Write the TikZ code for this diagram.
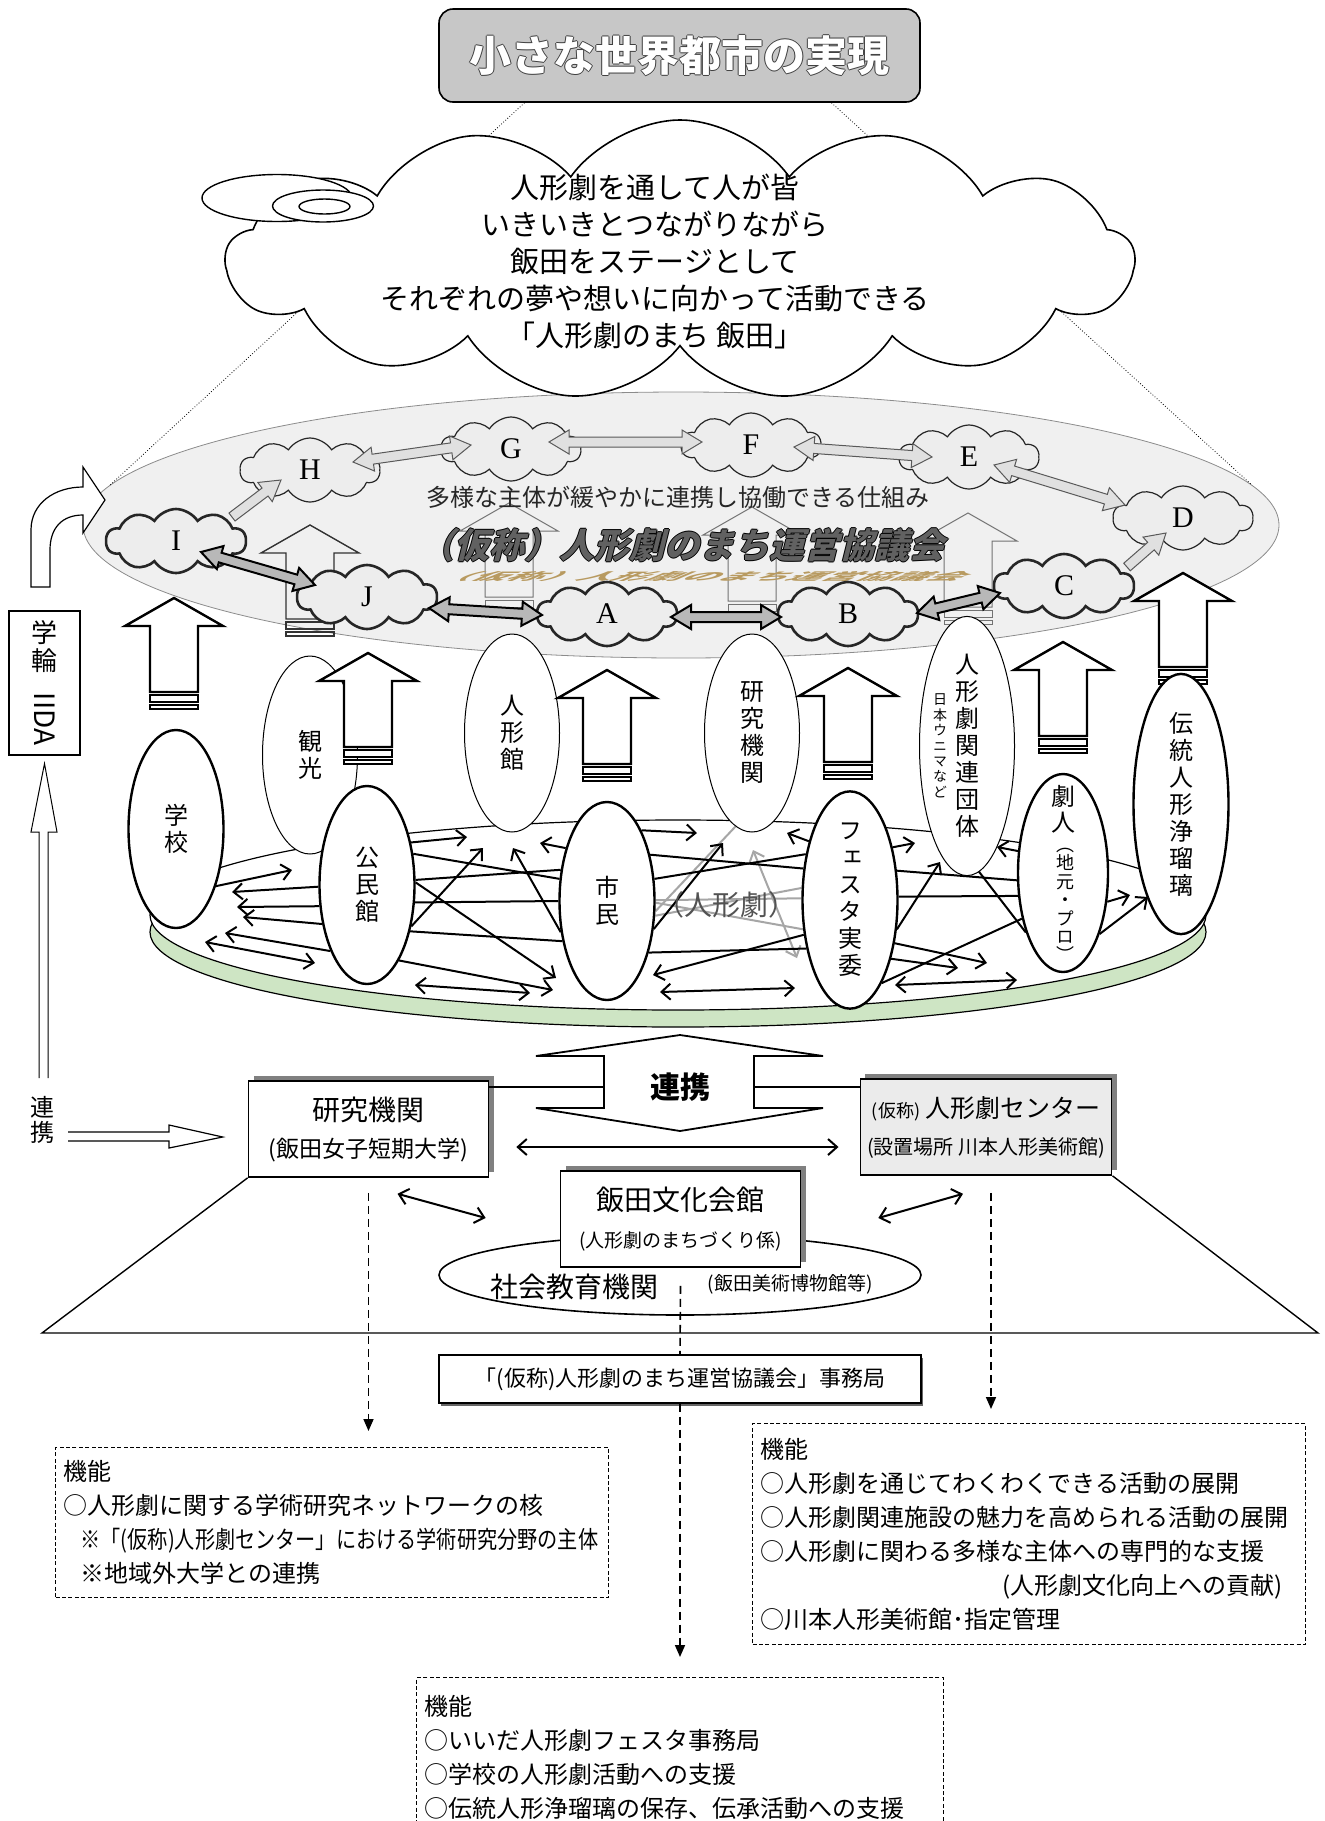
\documentclass[tikz,border=0pt]{standalone}
\usepackage{fontspec}
\usepackage{graphicx}
\setmainfont{Noto Sans CJK JP}
\newfontfamily\vjp{Noto Sans CJK JP}[RawFeature=+vert]
\newfontfamily\kyogiA{Noto Sans CJK JP}[FakeSlant=0.25]
\newfontfamily\kyogiB{Noto Sans CJK JP}[FakeSlant=0.7]
\newfontfamily\lat{Liberation Serif}
\usetikzlibrary{shapes.geometric,shapes.symbols,arrows.meta,calc,positioning,shadows}
\definecolor{platgreen}{RGB}{206,229,196}
\definecolor{gold}{RGB}{184,154,96}
\pgfdeclarelayer{plat}
\pgfdeclarelayer{net}
\pgfsetlayers{plat,net,main}

% text with a thin outline
\newcommand\halo[2]{\leavevmode\rlap{\color{#1}\hspace*{-0.6pt}#2}\rlap{\color{#1}\hspace*{0.6pt}#2}\rlap{\color{#1}\raisebox{0.6pt}{#2}}\rlap{\color{#1}\raisebox{-0.6pt}{#2}}#2}

% block arrow between two clouds, heads at both ends
\newcommand\twolink[5]{%
  \path[#1] let \p1=($(#2)+(#3)$), \p2=($(#4)+(#5)$), \p3=($(\p2)-(\p1)$), \n1={atan2(\y3,\x3)} in
    (\p1) -- ($(\p1)+(\n1:10pt)+(\n1+90:6pt)$) -- ($(\p1)+(\n1:10pt)+(\n1+90:2.5pt)$)
    -- ($(\p2)+(\n1+180:10pt)+(\n1+90:2.5pt)$) -- ($(\p2)+(\n1+180:10pt)+(\n1+90:6pt)$)
    -- (\p2) -- ($(\p2)+(\n1+180:10pt)+(\n1-90:6pt)$) -- ($(\p2)+(\n1+180:10pt)+(\n1-90:2.5pt)$)
    -- ($(\p1)+(\n1:10pt)+(\n1-90:2.5pt)$) -- ($(\p1)+(\n1:10pt)+(\n1-90:6pt)$) -- cycle;}
% block arrow with one head
\newcommand\onelink[5]{%
  \path[#1] let \p1=($(#2)+(#3)$), \p2=($(#4)+(#5)$), \p3=($(\p2)-(\p1)$), \n1={atan2(\y3,\x3)} in
    ($(\p1)+(\n1+90:2.5pt)$) -- ($(\p2)+(\n1+180:10pt)+(\n1+90:2.5pt)$) -- ($(\p2)+(\n1+180:10pt)+(\n1+90:6pt)$)
    -- (\p2) -- ($(\p2)+(\n1+180:10pt)+(\n1-90:6pt)$) -- ($(\p2)+(\n1+180:10pt)+(\n1-90:2.5pt)$)
    -- ($(\p1)+(\n1-90:2.5pt)$) -- cycle;}

\begin{document}
\begin{tikzpicture}[x=0.5pt,y=-0.5pt,
  smallcloud/.style={cloud, cloud puffs=10, cloud puff arc=115, cloud ignores aspect,
    minimum width=70pt, minimum height=32pt, inner sep=0pt, fill=black!7, draw=black!85,
    line width=0.6pt, font=\lat\fontsize{15}{15}\selectfont},
  boldcloud/.style={smallcloud, line width=1.3pt},
  lightlink/.style={fill=black!12, draw=black!65, line width=0.5pt},
  darklink/.style={fill=black!28, draw=black, line width=1pt},
  thinell/.style={ellipse, draw, line width=0.5pt, fill=white, inner sep=0pt,
    minimum width=47.5pt, minimum height=99pt, align=center, font=\vjp\fontsize{12}{13.5}\selectfont},
  thickell/.style={thinell, line width=1.2pt},
  upthick/.style={draw, fill=white, line width=1.2pt},
  upfaint/.style={draw=black!55, line width=0.5pt},
  net/.style={line width=1pt, >={Straight Barb[length=4.5pt,width=8pt]}},
  grayline/.style={net, draw=black!35},
  dasharr/.style={line width=0.8pt, dash pattern=on 4pt off 2.5pt, -{Triangle[length=6pt,width=5pt]}},
  box/.style={draw, line width=0.8pt, fill=white, minimum width=120pt, minimum height=48pt,
    align=center, font=\fontsize{11}{18.5}\selectfont,
    drop shadow={shadow xshift=2.5pt, shadow yshift=2.5pt, fill=black!50, opacity=1}},
  funcbox/.style={draw, line width=0.6pt, dash pattern=on 2pt off 1.2pt, align=left,
    inner xsep=4pt, anchor=north west, font=\fontsize{12}{17}\selectfont},
  uparrow/.pic={
    \draw[pic actions] (0,0) -- (49,28) -- (24,28) -- (24,94) -- (-24,94) -- (-24,28) -- (-49,28) -- cycle;
    \draw[pic actions] (-24,97) rectangle (24,104);
    \draw[pic actions] (-24,107) rectangle (24,111);
  }
]
\useasboundingbox (0,0) rectangle (1324,1821);

% goal and vision
\node[draw, line width=0.8pt, rounded corners=7pt, fill=black!22, minimum width=240.5pt,
  minimum height=46.5pt, text=white, font=\bfseries\fontsize{21}{21}\selectfont]
  (goal) at (679.5,55.5) {\halo{black!75}{小さな世界都市の実現}};

\node[ellipse, fill=black!6, draw=black!45, line width=0.4pt, minimum width=598pt,
  minimum height=133pt, inner sep=0pt] (stage) at (681,525) {};
\draw[densely dotted, line width=0.4pt] ($(goal.south)+(-155,0)$) -- (stage.176);
\draw[densely dotted, line width=0.4pt] ($(goal.south)+(152,0)$) -- (stage.4.5);

\node[cloud, cloud puffs=13, cloud puff arc=110, cloud ignores aspect, minimum width=454pt,
  minimum height=140pt, draw, line width=0.8pt, fill=white, inner sep=0pt] (dream) at (680,260) {};
\node[font=\fontsize{14.5}{18.5}\selectfont, align=center] (dreamT) at (655,261)
  {人形劇を通して人が皆\\いきいきとつながりながら\\飯田をステージとして\\それぞれの夢や想いに向かって活動できる\\「人形劇のまち 飯田」};
\node[ellipse, draw, fill=white, line width=0.7pt, minimum width=75pt, minimum height=23.5pt, inner sep=0pt] (bub1) at (277,198) {};
\node[ellipse, draw, fill=white, line width=0.7pt, minimum width=50.5pt, minimum height=16pt, inner sep=0pt] (bub2) at (323,206) {};
\node[ellipse, draw, fill=white, line width=0.7pt, minimum width=25.5pt, minimum height=7.5pt, inner sep=0pt] (bub3) at (324.5,206.5) {};

% arrows of the thin members, seen through the stage
\pic[upfaint, draw=black!80, line width=0.7pt] at (310,525) {uparrow};
\pic[upfaint] at (509,503) {uparrow};
\pic[upfaint] at (752,507) {uparrow};
\pic[upfaint] at (968,513) {uparrow};

\node[font=\fontsize{12}{12}\selectfont, text=black!85] (shikumi) at (678,497) {多様な主体が緩やかに連携し協働できる仕組み};
\node[inner sep=0pt, font=\kyogiB\bfseries\fontsize{17.5}{17.5}\selectfont, text=gold] (kyogiR) at (696,577)
  {\scalebox{1}[0.3]{（仮称）人形劇のまち運営協議会}};
\node[inner sep=0pt, font=\kyogiA\bfseries\fontsize{17.5}{17.5}\selectfont, text=black!62] (kyogi) at (682,545)
  {\halo{black}{（仮称）人形劇のまち運営協議会}};

% the ring of clouds
\node[boldcloud] (cI) at (176,541) {I};
\node[smallcloud] (cH) at (310,470) {H};
\node[smallcloud] (cG) at (511,449) {G};
\node[smallcloud] (cF) at (751,445) {F};
\node[smallcloud] (cE) at (969,457) {E};
\node[smallcloud] (cD) at (1183,518) {D};
\node[boldcloud] (cC) at (1064,586) {C};
\node[boldcloud] (cB) at (848,614) {B};
\node[boldcloud] (cA) at (607,614) {A};
\node[boldcloud] (cJ) at (367,597) {J};

\onelink{lightlink}{cI}{56,-24}{cH}{-29,10}
\twolink{lightlink}{cH}{43,-8}{cG}{-40,-4}
\twolink{lightlink}{cG}{38,-7}{cF}{-49,-3}
\twolink{lightlink}{cF}{43,2}{cE}{-37,0}
\twolink{lightlink}{cE}{25,8}{cD}{-58,-13}
\onelink{lightlink}{cC}{63,-19}{cD}{-17,15}
\twolink{darklink}{cB}{69,-1}{cC}{-64,7}
\twolink{darklink}{cA}{64,3}{cB}{-67,3}
\twolink{darklink}{cJ}{62,11}{cA}{-65,1}
\twolink{darklink}{cI}{25,11}{cJ}{-52,-12}

% gakurin IIDA
\draw[line width=0.6pt, fill=white] (31,587) -- (31,530) .. controls (31,503) and (55,487) .. (83,487)
  -- (83,467) -- (105,500) -- (83,533) -- (83,515) .. controls (62,515) and (50,528) .. (50,550) -- (50,587) -- cycle;
\node[draw, line width=0.6pt, minimum width=35.5pt, minimum height=72pt, align=center,
  font=\vjp\fontsize{13}{14}\selectfont] (gakurin) at (44.5,683)
  {学\\輪\\[-3pt]\rotatebox{-90}{\fontsize{14}{14}\selectfont IIDA}};
\draw[line width=0.5pt] (39,1078) -- (39,832) -- (31,832) -- ($(gakurin.south)+(0,8)$) -- (57,832) -- (48,832) -- (48,1078);
\node[font=\vjp\fontsize{12}{12.5}\selectfont, align=center] (renkeiL) at (42,1120) {連\\携};

% members
\node[thinell] (kan) at (310,755) {観\\光};
\node[thinell] (nkan) at (512,733) {人\\形\\館};
\node[thinell] (ken) at (752,733) {研\\究\\機\\関};
\node[thinell] (dan) at (967,746) {人\\形\\劇\\関\\連\\団\\体};
\node[font=\vjp\fontsize{7}{7.7}\selectfont, align=center] (danS) at (940,746) {日\\本\\ウ\\ニ\\マ\\な\\ど};

\pic[upthick] at (174,598) {uparrow};
\pic[upthick] at (368,653) {uparrow};
\pic[upthick] at (607,670) {uparrow};
\pic[upthick] at (848,668) {uparrow};
\pic[upthick] at (1063,642) {uparrow};
\pic[upthick] at (1183,573) {uparrow};

\node[thickell] (gak) at (176,829) {学\\校};
\node[thickell] (kou) at (367,885) {公\\民\\館};
\node[thickell] (shi) at (607,901) {市\\民};
\node[thickell] (fes) at (850,900) {フ\\ェ\\ス\\タ\\実\\委};
\node[thickell, minimum width=45pt] (gek) at (1063,873) {};
\node[font=\vjp\fontsize{12}{13}\selectfont, align=center] (gekT) at (1063,809) {劇\\人};
\node[font=\vjp\fontsize{9}{9.2}\selectfont, align=center] (gekS) at (1065,905) {︵\\地\\元\\・\\プ\\ロ\\︶};
\node[thickell] (den) at (1181,804) {伝\\統\\人\\形\\浄\\瑠\\璃};

% platform
\begin{pgfonlayer}{plat}
\draw[line width=0.6pt, fill=platgreen] (678,932) ellipse [x radius=528, y radius=95];
\draw[line width=0.6pt, fill=white] (678,915) ellipse [x radius=528, y radius=95];
\end{pgfonlayer}

% network on the platform
\begin{pgfonlayer}{net}
\foreach \n/\p in {h1/{292,870}, h2/{232,892}, h3/{237,907}, h4/{243,917}, h6/{225,933},
  h7/{467,837}, h8/{483,848}, h12/{556,978}, h14/{553,990}, h16/{513,848}, h17/{540,843},
  h18/{697,833}, h21/{723,843}, h24/{653,975}, h26/{787,833}, h27/{915,843}, h30/{940,862},
  h31/{970,860}, h32/{997,847}, h33/{987,963}, h34/{958,968}, h37/{1130,895}, h38/{1148,897},
  d5a/{205,942}, d5b/{315,963}, d15a/{415,985}, d15b/{530,993}, d25a/{660,992}, d25b/{795,988},
  d36a/{895,985}, d36b/{1017,980}, g22a/{753,850}, g22b/{797,958}}
  \coordinate (\n) at (\p);
\foreach \s/\t in {shi.-17/fes.166, shi.1/fes.178, shi.-2/fes.212, shi.-12/ken.-100}
  \draw[grayline] (\s) -- (\t);
\draw[grayline,<->] (g22a) -- (g22b);
\foreach \s/\t in {kou.34/shi.155, kou.6/shi.146, kou.-20/shi.180, kou.-47/shi.222,
  shi.47/fes.146, shi.25/fes.134, shi.-51/fes.228, fes.32/gek.189, fes.4/gek.207, fes.-69/gek.228}
  \draw[net] (\s) -- (\t);
\foreach \s/\t in {gak.-55/h1, kou.182/h2, kou.204/h3, kou.221/h4, kou.241/h6, kou.44/h7,
  kou.-43/h8, kou.3/h12, kou.-67/h14, shi.214/h16, shi.128/h17, shi.64/h18, shi.-31/h21,
  fes.217/h24, fes.125/h26, fes.51/h27, fes.-32/h30, gek.238/h31, gek.154/h32, fes.-44/h33,
  fes.-55/h34, gek.-33/h37, gek.-59/h38}
  \draw[net,->] (\s) -- (\t);
\foreach \s/\t in {d5a/d5b, d15a/d15b, d25a/d25b, d36a/d36b}
  \draw[net,<->] (\s) -- (\t);
\node[font=\fontsize{14}{14}\selectfont, text=black!68] (geki) at (726,905) {（人形劇）};
\end{pgfonlayer}

% organisation below
\node[minimum width=75pt, font=\bfseries\fontsize{15}{15}\selectfont] (renkei) at (680,1087) {連携};
\draw[line width=0.9pt, shift={(renkei.center)}] (0,-52) -- (143,-31) -- (74,-31) -- (74,21) -- (143,21)
  -- (0,44) -- (-144,21) -- (-76,21) -- (-76,-31) -- (-144,-31) -- cycle;

\node[ellipse, draw, line width=0.8pt, fill=white, minimum width=241pt, minimum height=40pt, inner sep=0pt] (shakai) at (680,1275) {};
\node[font=\fontsize{14}{14}\selectfont] (shakaiT) at (574,1287) {社会教育機関};
\node[font=\fontsize{9.5}{10}\selectfont] (shakaiS) at (790,1284) {(飯田美術博物館等)};

\node[box] (kenbox) at (368.5,1129) {{\fontsize{14}{14}\selectfont 研究機関}\\{\fontsize{11.5}{12}\selectfont (飯田女子短期大学)}};
\node[box, fill=black!8] (cenbox) at (986,1127) {{\fontsize{9}{9}\selectfont (仮称)} {\fontsize{12.5}{13}\selectfont 人形劇センター}\\{\fontsize{10}{11}\selectfont (設置場所 川本人形美術館)}};
\node[box] (bunbox) at (680.5,1219) {{\fontsize{14}{14}\selectfont 飯田文化会館}\\{\fontsize{9.5}{10}\selectfont (人形劇のまちづくり係)}};

\draw[line width=0.7pt] (kenbox.east |- renkei) -- (renkei.west);
\draw[line width=0.7pt] (renkei.east) -- (cenbox.west |- renkei);
\draw[line width=0.6pt] (68,1132) -- (169,1132) -- (169,1125) -- ($(kenbox.west)+(-25,8)$) -- (169,1148) -- (169,1141) -- (68,1141);

\coordinate (bl) at (42,1333);
\coordinate (br) at (1318,1333);
\draw[line width=0.7pt] (kenbox.south west) -- (bl) -- (br) -- (cenbox.south east);

\draw[net,<->] ($(kenbox.east)+(27,18)$) -- ($(cenbox.west)+(-21,20)$);
\draw[net,<->] ($(kenbox.south)+(29,16)$) -- ($(bunbox.west)+(-74,-1)$);
\draw[net,<->] ($(cenbox.south)+(-23,18)$) -- ($(bunbox.east)+(77,-1)$);

\node[draw, line width=0.7pt, fill=white, minimum width=241pt, minimum height=24pt,
  font=\fontsize{11}{11}\selectfont, drop shadow={shadow xshift=1pt, shadow yshift=-1.5pt, fill=black!60, opacity=1}]
  (jimu) at (680,1379) {「(仮称)人形劇のまち運営協議会」事務局};

% functions
\node[funcbox, text width=268.5pt, minimum height=75pt] (funcL) at (55,1447)
  {機能\\○人形劇に関する学術研究ネットワークの核\\\hspace*{8.5pt}\scalebox{0.84}[1]{※「(仮称)人形劇センター」における学術研究分野の主体}\\\hspace*{8.5pt}※地域外大学との連携};
\node[funcbox, text width=268.5pt, minimum height=110.5pt] (funcR) at (752,1423)
  {機能\\○人形劇を通じてわくわくできる活動の展開\\○人形劇関連施設の魅力を高められる活動の展開\\○人形劇に関わる多様な主体への専門的な支援\\\hspace*{121pt}(人形劇文化向上への貢献)\\○川本人形美術館･指定管理};
\node[funcbox, text width=255.5pt, minimum height=80pt] (funcB) at (416,1677)
  {機能\\○いいだ人形劇フェスタ事務局\\○学校の人形劇活動への支援\\○伝統人形浄瑠璃の保存、伝承活動への支援};

\draw[dasharr, shorten >=8pt] ($(kenbox.south)+(0,15)$) -- (kenbox.south |- funcL.north);
\draw[dasharr, shorten >=7pt] ($(cenbox.south)+(5,17)$) -- ($(cenbox.south |- funcR.north)+(5,0)$);
\draw[dasharr, -] ($(bunbox.south)+(0,18)$) -- (jimu.north);
\draw[dasharr, shorten >=10pt] (jimu.south) -- (jimu.south |- funcB.north);
\end{tikzpicture}
\end{document}
